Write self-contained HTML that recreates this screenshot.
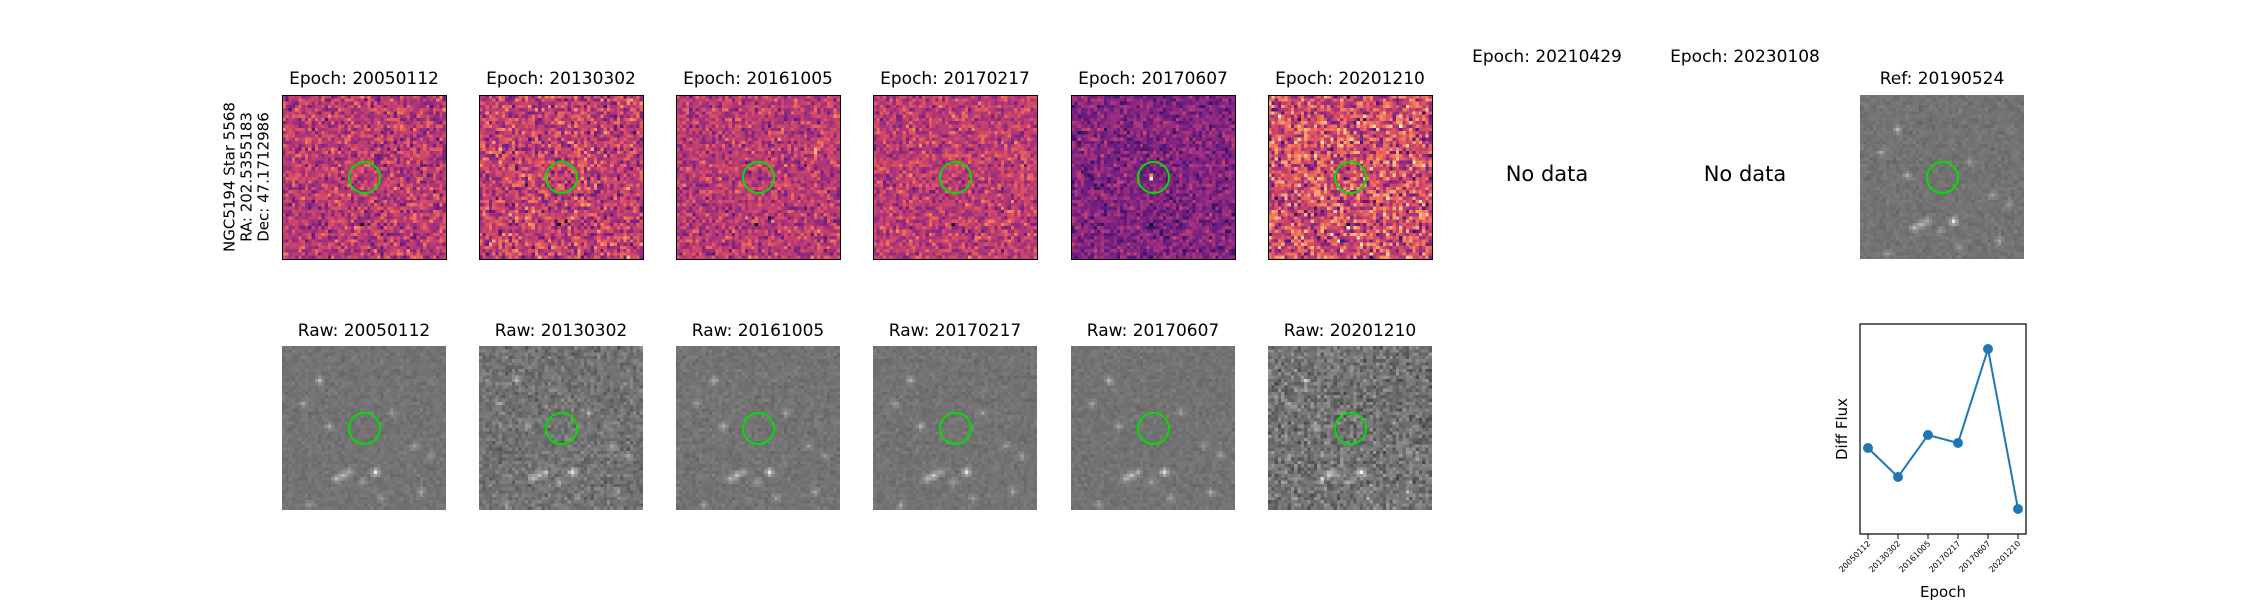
<!DOCTYPE html>
<html><head><meta charset="utf-8">
<style>
body{margin:0;background:#fff;width:2250px;height:600px;position:relative;overflow:hidden;font-family:"DejaVu Sans","Liberation Sans",sans-serif;}
.t{position:absolute;font-size:17px;color:#000;white-space:nowrap;transform:translateX(-50%);}
canvas{position:absolute;image-rendering:pixelated;}
.frame{position:absolute;border:1.3px solid #000;box-sizing:border-box;}
.circ{position:absolute;width:33px;height:33px;border:2px solid #00e000;border-radius:50%;box-sizing:border-box;}
</style></head><body>
<div class="t" style="left:247px;top:177px;transform:translate(-50%,-50%) rotate(-90deg);font-size:15px;line-height:17px;text-align:center;">NGC5194 Star 5568<br>RA: 202.5355183<br>Dec: 47.1712986</div>
<div id="root"></div>
<div class="t" style="left:1547px;top:47px;">Epoch: 20210429</div>
<div class="t" style="left:1745px;top:47px;">Epoch: 20230108</div>
<div class="t" style="left:1547px;top:162px;font-size:21px;">No data</div>
<div class="t" style="left:1745px;top:162px;font-size:21px;">No data</div>
<svg id="lc" style="position:absolute;left:0;top:0" width="2250" height="600"></svg>
<script>
const epochs=["20050112","20130302","20161005","20170217","20170607","20201210"];
const diffFlux=[61,32,74,66,160,0];
const lefts=[282,479,676,873,1071,1268];
function rng(s){return function(){s=(s*1664525+1013904223)>>>0;return s/4294967296;}}
function gauss(r){return (r()+r()+r()-1.5)/0.5;}
function magma(t){t=Math.max(0,Math.min(1,t));
 const st=[[0,0,4],[40,17,89],[101,26,128],[158,47,127],[212,72,102],[248,124,85],[254,186,128],[252,253,191]];
 const p=t*(st.length-1),i=Math.min(st.length-2,Math.floor(p)),f=p-i;
 return st[i].map((c,k)=>Math.round(c+(st[i+1][k]-c)*f));}
const stars=[[11,10,0.5],[6,17,0.35],[14,24,0.45],[28,38,0.9],[18,39,0.6],[16,40,0.5],[20,38,0.4],[24,41,0.3],[33,20,0.3],[40,30,0.3],[30,46,0.35],[45,33,0.3],[8,48,0.35],[42,44,0.4]];
const diffMean=[0.5,0.52,0.5,0.51,0.36,0.57];
const diffSd=[0.1,0.12,0.09,0.09,0.08,0.15];
const rawNoise=[0.035,0.08,0.04,0.035,0.035,0.12];
const root=document.getElementById('root');
function mk(tag,css,name){const e=document.createElement(tag);e.style.cssText=css;


root.appendChild(e);return e;}
function drawImg(x,y,type,idx,name){
 const c=mk('canvas',`left:${x}px;top:${y}px;width:164px;height:164px;`,name);
 c.width=50;c.height=50;const g=c.getContext('2d');const im=g.createImageData(50,50);const r=rng(idx*977+(type=='diff'?13:71));
 for(let j=0;j<50;j++)for(let i=0;i<50;i++){let col;
  if(type=='diff'){let v=diffMean[idx]+diffSd[idx]*gauss(r);
   if(idx==4&&i==24&&j==25)v=1;
   if(idx==4&&i==24&&j==24)v=0.75;
   if(idx==2&&i==42&&(j==16||j==17))v=0.85;
   if(i==24&&j==39)v=0.02;
   if(i==26&&j==38&&idx==1)v=0.0;
   if(i==28&&j==37&&idx==2)v=0.05;
   col=magma(v);}
  else{let v=0.45+rawNoise[idx]*gauss(r)*0.6;
   for(const s of stars){const d=(i-s[0])**2+(j-s[1])**2;v+=s[2]*Math.exp(-d/1.2)*0.5;}
   v=Math.min(1,v);const q=Math.round(v*255);col=[q,q,q];}
  const k=(j*50+i)*4;im.data[k]=col[0];im.data[k+1]=col[1];im.data[k+2]=col[2];im.data[k+3]=255;}
 g.putImageData(im,0,0);
 if(type=='diff')mk('div',`left:${x}px;top:${y}px;width:165px;height:165px;`,name+'-frame').className='frame';
 mk('div',`left:${x+66}px;top:${y+66}px;`,name+'-aperture').className='circ';
}
epochs.forEach((e,i)=>{
 const x=lefts[i];
 const t1=mk('div',`left:${x+82}px;top:69px;`,'diff-title-'+e);t1.className='t';t1.textContent='Epoch: '+e;
 drawImg(x,95,'diff',i,'diff-image-'+e);
 const t2=mk('div',`left:${x+82}px;top:321px;`,'raw-title-'+e);t2.className='t';t2.textContent='Raw: '+e;
 drawImg(x,346,'raw',i,'raw-image-'+e);
});
const tr=mk('div','left:1942px;top:69px;','ref-title');tr.className='t';tr.textContent='Ref: 20190524';
drawImg(1860,95,'raw',0,'ref-image');
const svg=document.getElementById('lc');const NS='http://www.w3.org/2000/svg';
const ax={l:1860,r:2026,t:324,b:534},ymin=-25,ymax=185;
const X=i=>1868+i*30, Y=v=>ax.b-(v-ymin)/(ymax-ymin)*(ax.b-ax.t);
function el(tag,attrs,name){const e=document.createElementNS(NS,tag);for(const k in attrs)e.setAttribute(k,attrs[k]);


svg.appendChild(e);return e;}
el('rect',{x:ax.l,y:ax.t,width:ax.r-ax.l,height:ax.b-ax.t,fill:'none',stroke:'#000','stroke-width':1.2},'plot-frame');
el('polyline',{points:diffFlux.map((v,i)=>X(i)+','+Y(v)).join(' '),fill:'none',stroke:'#1f77b4','stroke-width':2},'flux-line');
diffFlux.forEach((v,i)=>{
 el('circle',{cx:X(i),cy:Y(v),r:5,fill:'#1f77b4'},'flux-point-'+epochs[i]);
 el('line',{x1:X(i),x2:X(i),y1:ax.b,y2:ax.b+5,stroke:'#000','stroke-width':1},'x-tick-'+epochs[i]);
 const t=el('text',{x:X(i)+3,y:ax.b+10,'font-size':8,'text-anchor':'end',transform:`rotate(-45 ${X(i)+3} ${ax.b+10})`,fill:'#000','font-family':'DejaVu Sans, sans-serif'},'x-tick-label-'+epochs[i]);t.textContent=epochs[i];
});
const xl=el('text',{x:1943,y:597,'font-size':15,'text-anchor':'middle','font-family':'DejaVu Sans, sans-serif'},'x-axis-title');xl.textContent='Epoch';
const yl=el('text',{x:1847,y:429,'font-size':15,'text-anchor':'middle',transform:'rotate(-90 1847 429)','font-family':'DejaVu Sans, sans-serif'},'y-axis-title');yl.textContent='Diff Flux';
</script>
</body></html>
